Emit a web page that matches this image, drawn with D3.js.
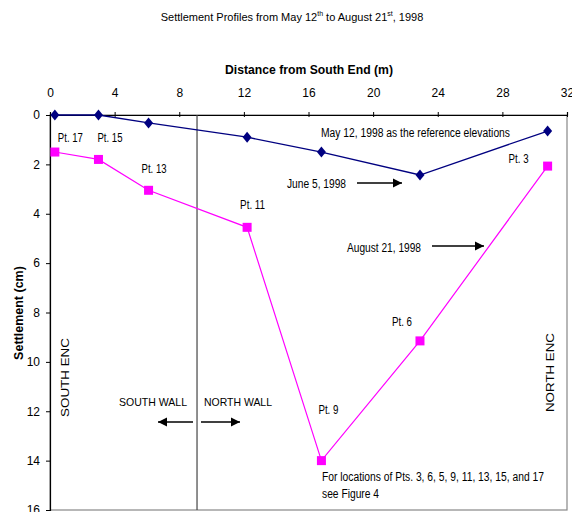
<!DOCTYPE html>
<html><head><meta charset="utf-8">
<script src="https://cdn.jsdelivr.net/npm/d3@7/dist/d3.min.js"></script>
<style>
body{margin:0;background:#fff;}
text{font-family:"Liberation Sans",sans-serif;fill:#000;}
</style></head>
<body><svg id="c" width="572" height="512"></svg>
<script>
const distances = [0.3, 3.0, 6.1, 12.2, 16.8, 22.9, 30.8];
const june5 = [0, 0, 0.32, 0.9, 1.5, 2.43, 0.65];
const aug21 = [1.5, 1.8, 3.05, 4.55, 14.0, 9.15, 2.07];
const pointLabels = ["Pt. 17", "Pt. 15", "Pt. 13", "Pt. 11", "Pt. 9", "Pt. 6", "Pt. 3"];
const xTicks = [0, 4, 8, 12, 16, 20, 24, 28, 32];
const yTicks = [0, 2, 4, 6, 8, 10, 12, 14, 16];
const wallPosition = 9.1;

const svg = d3.select("#c");
const L = 50, R = 567, T = 115, B = 510;
const x = d3.scaleLinear().domain([0, 32]).range([L, R]);
const y = d3.scaleLinear().domain([0, 16]).range([T, B]);

function txt(xx, yy, s, w, size) {
  const t = svg.append("text").attr("x", xx).attr("y", yy).attr("font-size", size || 12).text(s);
  if (w) t.attr("textLength", w).attr("lengthAdjust", "spacingAndGlyphs");
  return t;
}

svg.append("text").attr("x", 292).attr("y", 21).attr("text-anchor", "middle")
  .attr("font-size", 11)
  .html('Settlement Profiles from May 12<tspan dy="-5" font-size="7">th</tspan><tspan dy="5"> to August 21</tspan><tspan dy="-5" font-size="7">st</tspan><tspan dy="5">, 1998</tspan>');

svg.append("text").attr("x", 225).attr("y", 74).attr("font-size", 13).attr("font-weight", "bold")
  .attr("textLength", 168).attr("lengthAdjust", "spacingAndGlyphs").text("Distance from South End (m)");
svg.append("text").attr("transform", "translate(23,313) rotate(-90)").attr("text-anchor", "middle")
  .attr("font-size", 12.5).attr("font-weight", "bold").text("Settlement (cm)");

// frame
svg.append("rect").attr("x", L).attr("y", T).attr("width", R - L).attr("height", B - T)
  .attr("fill", "none").attr("stroke", "#888").attr("stroke-width", 1.2);

const xAxis = svg.append("g").attr("transform", `translate(0,${T})`)
  .call(d3.axisTop(x).tickValues(xTicks).tickSize(3).tickPadding(15));
const yAxis = svg.append("g").attr("transform", `translate(${L},0)`)
  .call(d3.axisLeft(y).tickValues(yTicks).tickSize(4).tickPadding(6));
[xAxis, yAxis].forEach(g => {
  g.select(".domain").attr("stroke", "#000").attr("stroke-width", 1.2);
  g.selectAll(".tick line").attr("stroke", "#000");
  g.selectAll(".tick text").attr("font-size", 12).attr("font-family", "DejaVu Sans Condensed, Liberation Sans, sans-serif");
});
xAxis.selectAll(".tick line").attr("y1", 2);

// wall line
svg.append("line").attr("x1", x(wallPosition)).attr("x2", x(wallPosition)).attr("y1", T).attr("y2", B)
  .attr("stroke", "#444").attr("stroke-width", 1.2);

const line = d3.line().x(d => x(d[0])).y(d => y(d[1]));
const juneData = distances.map((d, i) => [d, june5[i]]);
const augData = distances.map((d, i) => [d, aug21[i]]);

svg.append("path").attr("d", line(juneData)).attr("fill", "none").attr("stroke", "#000080").attr("stroke-width", 1.3);
svg.append("path").attr("d", line(augData)).attr("fill", "none").attr("stroke", "#ff00ff").attr("stroke-width", 1.2);

svg.selectAll(".dia").data(juneData).enter().append("path")
  .attr("transform", d => `translate(${x(d[0])},${y(d[1])})`)
  .attr("d", "M0,-5.5L4.5,0L0,5.5L-4.5,0Z").attr("fill", "#000080");
svg.selectAll(".sq").data(augData).enter().append("rect")
  .attr("x", d => x(d[0]) - 4.5).attr("y", d => y(d[1]) - 4.5).attr("width", 9).attr("height", 9).attr("fill", "#ff00ff");

// point labels
const labelOffsets = [[3, -10], [-1, -17], [-7, -17], [-7, -18], [-3, -47], [-28, -15], [-39, -3]];
pointLabels.forEach((t, i) => {
  txt(x(distances[i]) + labelOffsets[i][0], y(aug21[i]) + labelOffsets[i][1], t, t.length > 5 ? 25 : 20);
});

function arrow(x1, x2, yy) {
  svg.append("line").attr("x1", x1).attr("x2", x2).attr("y1", yy).attr("y2", yy).attr("stroke", "#000").attr("stroke-width", 1.5);
  const dir = Math.sign(x2 - x1);
  svg.append("path").attr("d", `M${x2},${yy}L${x2 - dir * 9},${yy - 4.5}L${x2 - dir * 9},${yy + 4.5}Z`).attr("fill", "#000");
}

txt(321, 137, "May 12, 1998 as the reference elevations", 189);
txt(287, 188, "June 5, 1998", 59);
arrow(357, 402, 183);
txt(347, 252, "August 21, 1998", 74);
arrow(432, 484, 246);

txt(119, 406, "SOUTH WALL", 68, 11.5);
txt(204, 406, "NORTH WALL", 68, 11.5);
arrow(193, 158, 422);
arrow(201, 240, 422);

svg.append("text").attr("transform", "translate(69,417) rotate(-90)")
  .attr("font-size", 11).attr("textLength", 79).attr("lengthAdjust", "spacingAndGlyphs").text("SOUTH ENC");
svg.append("text").attr("transform", "translate(554,412) rotate(-90)")
  .attr("font-size", 11).attr("textLength", 79).attr("lengthAdjust", "spacingAndGlyphs").text("NORTH ENC");

txt(322, 481, "For locations of Pts. 3, 6, 5, 9, 11, 13, 15, and 17", 222);
txt(322, 498, "see Figure 4", 57);
</script></body></html>
